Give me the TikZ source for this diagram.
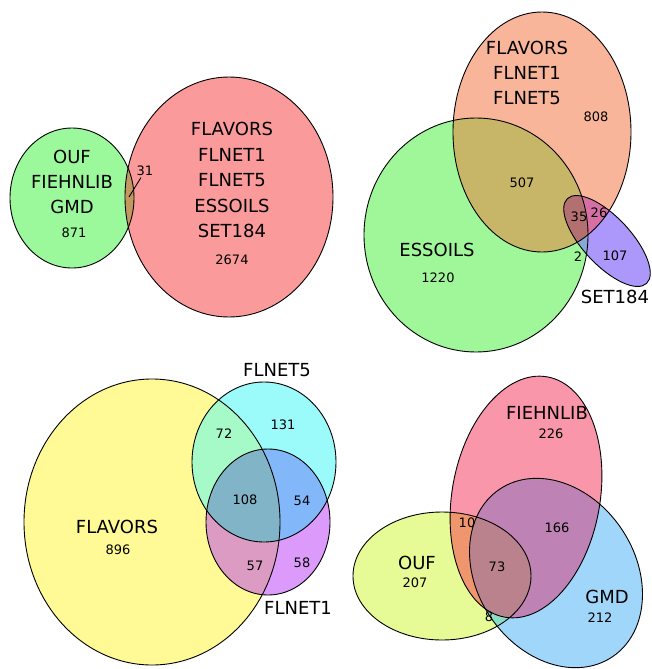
\documentclass[tikz,border=0pt]{standalone}
\usepackage{fontspec}
\setmainfont{DejaVu Sans}
\definecolor{cAg}{RGB}{155,248,155}
\definecolor{cAr}{RGB}{250,154,154}
\definecolor{cAgr}{RGB}{194,152,94}
\definecolor{cBo}{RGB}{249,181,153}
\definecolor{cBg}{RGB}{160,247,154}
\definecolor{cBs}{RGB}{172,152,250}
\definecolor{cBog}{RGB}{200,182,104}
\definecolor{cBos}{RGB}{214,112,164}
\definecolor{cBgs}{RGB}{136,168,216}
\definecolor{cBogs}{RGB}{180,112,112}
\definecolor{cCy}{RGB}{255,250,150}
\definecolor{cCc}{RGB}{155,250,250}
\definecolor{cCm}{RGB}{220,155,250}
\definecolor{cCyc}{RGB}{165,250,200}
\definecolor{cCym}{RGB}{220,155,195}
\definecolor{cCcm}{RGB}{130,184,250}
\definecolor{cCycm}{RGB}{130,180,200}
\definecolor{cDo}{RGB}{230,250,150}
\definecolor{cDp}{RGB}{250,150,170}
\definecolor{cDb}{RGB}{160,214,250}
\definecolor{cDop}{RGB}{240,150,110}
\definecolor{cDob}{RGB}{140,220,195}
\definecolor{cDpb}{RGB}{190,130,180}
\definecolor{cDopb}{RGB}{186,130,140}
\begin{document}
\begin{tikzpicture}[x=1pt,y=-1pt,
  lab/.style={font=\fontsize{18}{25}\selectfont,inner sep=0pt,align=center},
  num/.style={font=\fontsize{13}{15}\selectfont,inner sep=0pt},
  outl/.style={draw=black,line width=0.9pt},
  rotS/.style={rotate around={-47:(607,241)}},
  rotP/.style={rotate around={-10:(526,497)}},
  rotG/.style={rotate around={-56:(556,573)}}]
\useasboundingbox (0,0) rectangle (652,669);
% ---------- top left ----------
\def\Ag{(72,198) ellipse [x radius=62,y radius=70]}
\def\Ar{(229,197) ellipse [x radius=104,y radius=120]}
\fill[cAg] \Ag;
\fill[cAr] \Ar;
\begin{scope}\clip \Ag; \fill[cAgr] \Ar;\end{scope}
\draw[outl] \Ag;
\draw[outl] \Ar;
\node[lab] (tlg) at (72,182) {OUF\\FIEHNLIB\\GMD};
\node[num] (tlgn) at (74,233) {871};
\node[lab,font=\fontsize{18}{25.5}\selectfont] (tlr) at (232,180) {FLAVORS\\FLNET1\\FLNET5\\ESSOILS\\SET184};
\node[num] (tlrn) at (232,260) {2674};
\node[num,inner sep=1.5pt] (tl31) at (145,171) {31};
\coordinate (tl31p) at (129,197);
\draw[line width=0.9pt] (tl31) -- (tl31p);
% ---------- top right ----------
\def\Bo{(542,132) ellipse [x radius=89,y radius=120]}
\def\Bg{(476,235) ellipse [x radius=112,y radius=117]}
\def\Bs{(607,241) ellipse [x radius=58,y radius=24]}
\fill[cBo] \Bo;
\fill[cBg] \Bg;
\fill[cBs,rotS] \Bs;
\begin{scope}\clip \Bo; \fill[cBog] \Bg;\end{scope}
\begin{scope}\clip \Bo; \fill[cBos,rotS] \Bs;\end{scope}
\begin{scope}\clip \Bg; \fill[cBgs,rotS] \Bs;\end{scope}
\begin{scope}\clip \Bo; \clip \Bg; \fill[cBogs,rotS] \Bs;\end{scope}
\draw[outl] \Bo;
\draw[outl] \Bg;
\draw[outl,rotS] \Bs;
\node[lab] (tro) at (527,73) {FLAVORS\\FLNET1\\FLNET5};
\node[num] (tron) at (596,117) {808};
\node[num] (tr507) at (522,183) {507};
\node[num] (tr35) at (579,217) {35};
\node[num] (tr26) at (599,213) {26};
\node[num] (tr2) at (578,257) {2};
\node[num] (tr107) at (615,256) {107};
\node[lab] (trg) at (437,250) {ESSOILS};
\node[num] (trgn) at (438,278) {1220};
\node[lab] (trs) at (615,297) {SET184};
% ---------- bottom left ----------
\def\Cy{(152,522) ellipse [x radius=128,y radius=143]}
\def\Cc{(264,462) ellipse [x radius=72,y radius=80]}
\def\Cm{(268,522) ellipse [x radius=62,y radius=73]}
\fill[cCy] \Cy;
\fill[cCc] \Cc;
\fill[cCm] \Cm;
\begin{scope}\clip \Cy; \fill[cCyc] \Cc;\end{scope}
\begin{scope}\clip \Cy; \fill[cCym] \Cm;\end{scope}
\begin{scope}\clip \Cc; \fill[cCcm] \Cm;\end{scope}
\begin{scope}\clip \Cy; \clip \Cc; \fill[cCycm] \Cm;\end{scope}
\draw[outl] \Cy;
\draw[outl] \Cc;
\draw[outl] \Cm;
\node[lab] (blc) at (277,370) {FLNET5};
\node[num] (bl72) at (224,434) {72};
\node[num] (bl131) at (283,425) {131};
\node[num] (bl108) at (245,500) {108};
\node[num] (bl54) at (302,501) {54};
\node[lab] (bly) at (117,527) {FLAVORS};
\node[num] (blyn) at (118,550) {896};
\node[num] (bl57) at (255,566) {57};
\node[num] (bl58) at (302,563) {58};
\node[lab] (blm) at (298,608) {FLNET1};
% ---------- bottom right ----------
\def\Do{(442,576) ellipse [x radius=89,y radius=64]}
\def\Dp{(526,497) ellipse [x radius=74,y radius=122]}
\def\Db{(556,573) ellipse [x radius=101,y radius=79]}
\fill[cDo] \Do;
\fill[cDp,rotP] \Dp;
\fill[cDb,rotG] \Db;
\begin{scope}\clip \Do; \fill[cDop,rotP] \Dp;\end{scope}
\begin{scope}\clip \Do; \fill[cDob,rotG] \Db;\end{scope}
\begin{scope}\clip[rotP] \Dp; \fill[cDpb,rotG] \Db;\end{scope}
\begin{scope}\clip \Do; \clip[rotP] \Dp; \fill[cDopb,rotG] \Db;\end{scope}
\draw[outl] \Do;
\draw[outl,rotP] \Dp;
\draw[outl,rotG] \Db;
\node[lab] (brp) at (547,413) {FIEHNLIB};
\node[num] (brpn) at (551,434) {226};
\node[num] (br166) at (557,528) {166};
\node[num] (br10) at (467,523) {10};
\node[num] (br73) at (497,567) {73};
\node[lab] (bro) at (417,563) {OUF};
\node[num] (bron) at (415,583) {207};
\node[lab] (brb) at (607,597) {GMD};
\node[num] (brbn) at (600,618) {212};
\node[num] (br8) at (489,617) {8};
\end{tikzpicture}
\end{document}
